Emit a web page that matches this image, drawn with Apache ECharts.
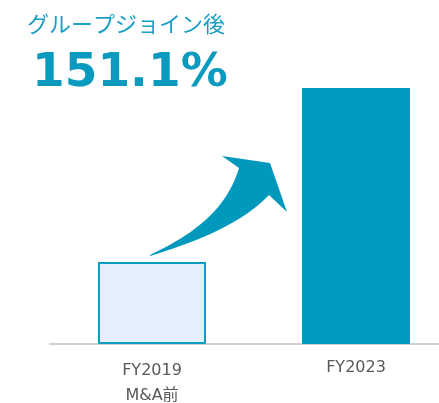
<!DOCTYPE html>
<html>
<head>
<meta charset="utf-8">
<script src="https://cdn.jsdelivr.net/npm/echarts@6/dist/echarts.min.js"></script>
<style>
  html, body { margin: 0; padding: 0; background: #fff; }
  #main { width: 439px; height: 403px; }
</style>
</head>
<body>
<div id="main"></div>
<script>
// data (schematic bar heights)
const categories = ['FY2019\nM&A前', 'FY2023']
const values = [82, 256]
const headline = 'グループジョイン後'
const growth = '151.1%'

// sample a cubic bezier into points (for the decorative arrow)
function bez(p0, p1, p2, p3, n) {
  const pts = []
  for (let i = 0; i <= n; i++) {
    const t = i / n, u = 1 - t
    pts.push([
      u*u*u*p0[0] + 3*u*u*t*p1[0] + 3*u*t*t*p2[0] + t*t*t*p3[0],
      u*u*u*p0[1] + 3*u*u*t*p1[1] + 3*u*t*t*p2[1] + t*t*t*p3[1]
    ])
  }
  return pts
}

const arrowPts = []
  .concat(bez([150,255], [185,238], [225,215], [239,168], 24))
  .concat([[222,156], [270,163], [287,212]])
  .concat(bez([269,195], [240,225], [195,242], [150,256], 24))

const chart = echarts.init(document.getElementById('main'))

chart.setOption({
  animation: false,
  title: [
    {
      text: headline, left: 22, top: 8,
      textStyle: {fontSize: 22, fontWeight: 'normal', color: '#1a9ec4', fontFamily: 'Noto Sans CJK JP'}
    },
    {
      text: growth, left: 27, top: 45,
      textStyle: {fontSize: 47, fontWeight: 'bold', color: '#0a9abf', fontFamily: 'DejaVu Sans'}
    }
  ],
  grid: {left: 50, top: 44, width: 408, height: 300, outerBoundsMode: 'none', containLabel: false},
  xAxis: {
    type: 'category',
    data: categories.map((c, i) => i === 1 ? {value: c, textStyle: {lineHeight: 19}} : c),
    axisLine: {lineStyle: {color: '#d0d0d0', width: 2}},
    axisTick: {length: 4, lineStyle: {color: '#d0d0d0', width: 2}},
    axisLabel: {
      color: '#595959', fontSize: 16, lineHeight: 25, margin: 14,
      fontFamily: 'DejaVu Sans, Noto Sans CJK JP'
    }
  },
  yAxis: {type: 'value', min: 0, max: 300, show: false},
  series: [{
    type: 'bar',
    barWidth: 108,
    z: 1,
    data: values.map((v, i) => i === 0
      ? {value: v, itemStyle: {color: '#e3f0fb', borderColor: '#0f9cc2', borderWidth: 2}}
      : {value: v, itemStyle: {color: '#009bbf'}})
  }],
  graphic: [{
    type: 'polygon',
    shape: {points: arrowPts},
    style: {fill: '#0099bb'}
  }]
})
</script>
</body>
</html>
